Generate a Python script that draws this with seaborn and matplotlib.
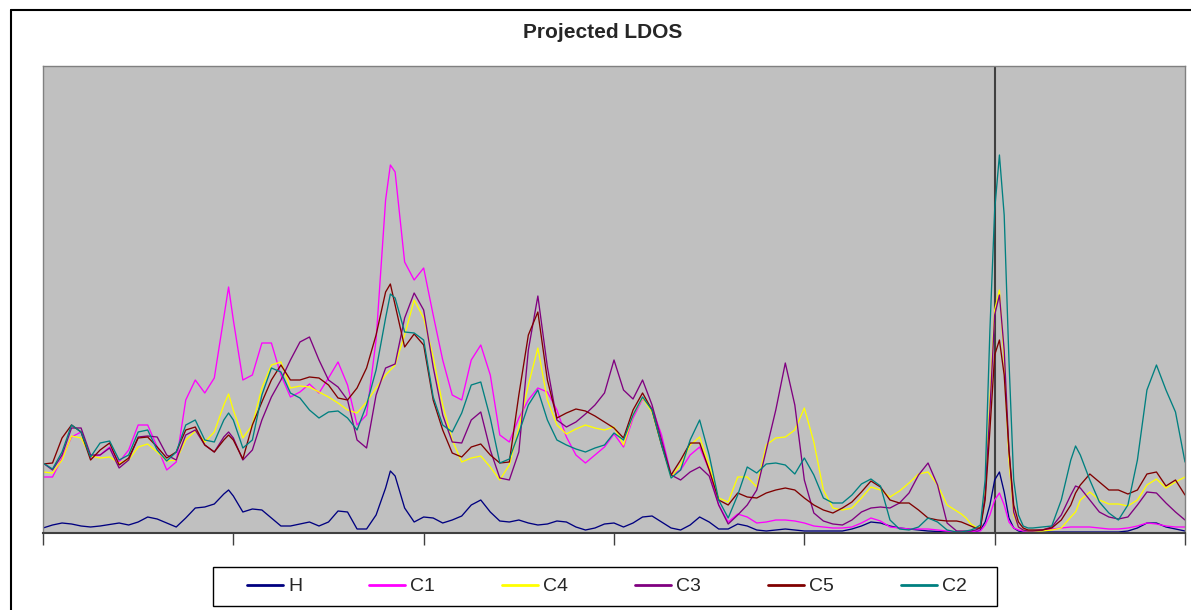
import numpy as np
import pandas as pd
import matplotlib
matplotlib.use("Agg")
import matplotlib.pyplot as plt
from matplotlib.lines import Line2D
from matplotlib.patches import Rectangle
import seaborn as sns

# ---------------- data ----------------
# energy grid (eV): 0.1 eV steps, a finer 0.05 eV window around E_F, plus three peak positions
energy_left = np.round(np.arange(-10.0, -0.35, 0.1), 2)
energy_fermi = np.round(np.arange(-0.35, 0.36, 0.05), 2)
energy_right = np.round(np.arange(0.4, 2.05, 0.1), 2)
energy_peaks = [-8.05, -6.35, 0.85]
energy = np.sort(np.concatenate([energy_left, energy_fermi, energy_right, energy_peaks]))

xticks = [-10, -8, -6, -4, -2, 0, 2]
fermi_level = 0.0

series_names = ["H", "C1", "C4", "C3", "C5", "C2"]
series_colors = ["#000080", "#FF00FF", "#FFFF00", "#800080", "#800000", "#008080"]

ldos_H = [
    0.05, 0.08, 0.10, 0.09, 0.07, 0.06, 0.07, 0.085, 0.10, 0.08,
    0.11, 0.16, 0.14, 0.10, 0.06, 0.15, 0.25, 0.26, 0.29, 0.39,
    0.43,
    0.37, 0.21, 0.24, 0.23, 0.15, 0.07, 0.07, 0.09, 0.11, 0.07,
    0.11, 0.22, 0.21, 0.04, 0.04, 0.18, 0.45,
    0.62,
    0.57, 0.25, 0.11,
    0.16, 0.15, 0.10, 0.13, 0.17, 0.28, 0.33, 0.21, 0.12, 0.11,
    0.13, 0.10, 0.08, 0.09, 0.12, 0.11, 0.06, 0.03, 0.05, 0.09,
    0.10, 0.06, 0.10, 0.16, 0.17, 0.11, 0.05, 0.03, 0.08, 0.16,
    0.11, 0.04, 0.04, 0.09, 0.07, 0.03, 0.02, 0.03, 0.04, 0.03,
    0.02, 0.02, 0.02, 0.02, 0.02, 0.04, 0.07, 0.11, 0.10, 0.07,
    0.05, 0.04, 0.03, 0.02, 0.015, 0.01, 0.01,
    0.01, 0.01, 0.01, 0.01, 0.03, 0.11, 0.28, 0.53, 0.61, 0.41, 0.15, 0.05, 0.02, 0.01, 0.01,
    0.01, 0.01, 0.01, 0.01, 0.01,
    0.01,
    0.01, 0.01, 0.01, 0.01, 0.01, 0.02, 0.05, 0.10, 0.10, 0.06, 0.04, 0.02,
]

ldos_C1 = [
    0.56, 0.56, 0.75, 0.96, 1.01, 0.76, 0.78, 0.86, 0.71, 0.83,
    1.08, 1.08, 0.86, 0.63, 0.71, 1.33, 1.53, 1.40, 1.55, 2.16,
    2.46,
    2.13, 1.53, 1.58, 1.90, 1.90, 1.58, 1.36, 1.41, 1.49, 1.40,
    1.55, 1.71, 1.48, 1.08, 1.18, 1.93, 3.33,
    3.68,
    3.61, 2.71, 2.53,
    2.65, 2.18, 1.73, 1.38, 1.33, 1.73, 1.88, 1.58, 0.98, 0.91,
    1.15, 1.33, 1.45, 1.41, 1.23, 0.96, 0.78, 0.70, 0.78, 0.86,
    0.99, 0.86, 1.15, 1.34, 1.25, 0.98, 0.58, 0.63, 0.78, 0.86,
    0.63, 0.28, 0.11, 0.19, 0.16, 0.10, 0.11, 0.13, 0.13, 0.12,
    0.10, 0.07, 0.06, 0.05, 0.05, 0.06, 0.10, 0.15, 0.12, 0.06,
    0.05, 0.04, 0.04, 0.04, 0.03, 0.02, 0.01,
    0.01, 0.01, 0.01, 0.02, 0.02, 0.08, 0.18, 0.33, 0.40, 0.28, 0.11, 0.05, 0.03, 0.02, 0.02,
    0.02, 0.03, 0.04, 0.05, 0.06,
    0.06,
    0.06, 0.06, 0.05, 0.04, 0.04, 0.05, 0.07, 0.10, 0.09, 0.07, 0.06, 0.06,
]

ldos_C4 = [
    0.61, 0.60, 0.73, 0.97, 0.95, 0.77, 0.75, 0.76, 0.70, 0.73,
    0.86, 0.89, 0.81, 0.72, 0.73, 0.93, 1.02, 0.91, 1.01, 1.28,
    1.39,
    1.23, 0.95, 1.08, 1.45, 1.68, 1.71, 1.45, 1.47, 1.46, 1.41,
    1.36, 1.30, 1.23, 1.20, 1.31, 1.45, 1.58,
    1.63,
    1.68, 1.98, 2.33,
    2.15, 1.76, 1.28, 0.93, 0.71, 0.75, 0.77, 0.66, 0.53, 0.68,
    1.05, 1.48, 1.85, 1.33, 1.08, 0.99, 1.04, 1.08, 1.05, 1.03,
    1.06, 0.88, 1.18, 1.35, 1.21, 0.88, 0.56, 0.68, 0.88, 0.96,
    0.68, 0.35, 0.31, 0.56, 0.56, 0.46, 0.88, 0.95, 0.96, 1.03,
    1.25, 0.91, 0.43, 0.25, 0.23, 0.25, 0.35, 0.46, 0.43, 0.36,
    0.42, 0.50, 0.59, 0.61, 0.48, 0.28, 0.22,
    0.19, 0.15, 0.09, 0.06, 0.05, 0.43, 1.33, 2.23, 2.43, 1.73, 0.73, 0.18, 0.06, 0.03, 0.02,
    0.02, 0.02, 0.03, 0.05, 0.16,
    0.21,
    0.33, 0.41, 0.33, 0.29, 0.29, 0.27, 0.33, 0.48, 0.54, 0.45, 0.51, 0.56,
]

ldos_C3 = [
    0.70, 0.63, 0.78, 1.05, 1.05, 0.78, 0.78, 0.85, 0.65, 0.73,
    0.96, 0.97, 0.96, 0.78, 0.73, 0.98, 1.03, 0.88, 0.81, 0.96,
    1.01,
    0.95, 0.73, 0.83, 1.13, 1.36, 1.53, 1.73, 1.91, 1.96, 1.73,
    1.53, 1.46, 1.33, 0.93, 0.85, 1.38, 1.65,
    1.67,
    1.69, 2.15, 2.40,
    2.23, 1.66, 1.18, 0.91, 0.90, 1.13, 1.21, 0.83, 0.55, 0.53,
    0.81, 1.83, 2.37, 1.66, 1.13, 1.06, 1.11, 1.19, 1.28, 1.40,
    1.73, 1.43, 1.34, 1.53, 1.28, 0.93, 0.58, 0.53, 0.61, 0.66,
    0.57, 0.28, 0.09, 0.18, 0.28, 0.43, 0.83, 1.23, 1.70, 1.28,
    0.53, 0.20, 0.12, 0.09, 0.08, 0.13, 0.21, 0.25, 0.26, 0.25,
    0.30, 0.40, 0.58, 0.70, 0.48, 0.10, 0.02,
    0.02, 0.02, 0.02, 0.03, 0.05, 0.38, 1.23, 2.18, 2.38, 1.83, 0.83, 0.21, 0.06, 0.03, 0.02,
    0.02, 0.03, 0.06, 0.18, 0.38,
    0.47,
    0.45, 0.33, 0.21, 0.16, 0.14, 0.16, 0.28, 0.41, 0.40, 0.30, 0.21, 0.13,
]

ldos_C5 = [
    0.69, 0.70, 0.95, 1.08, 1.01, 0.73, 0.83, 0.90, 0.68, 0.75,
    0.95, 0.96, 0.86, 0.75, 0.81, 1.03, 1.06, 0.88, 0.81, 0.93,
    0.98,
    0.93, 0.74, 1.08, 1.31, 1.53, 1.68, 1.53, 1.53, 1.56, 1.55,
    1.48, 1.35, 1.33, 1.45, 1.65, 1.98, 2.41,
    2.49,
    2.28, 1.86, 1.99,
    1.88, 1.33, 1.03, 0.80, 0.76, 0.86, 0.89, 0.78, 0.70, 0.71,
    1.38, 1.98, 2.21, 1.53, 1.15, 1.20, 1.24, 1.22, 1.17, 1.11,
    1.05, 0.95, 1.23, 1.40, 1.23, 0.88, 0.58, 0.73, 0.90, 0.90,
    0.63, 0.33, 0.28, 0.40, 0.36, 0.35, 0.40, 0.43, 0.45, 0.43,
    0.35, 0.28, 0.23, 0.20, 0.25, 0.31, 0.41, 0.52, 0.46, 0.33,
    0.30, 0.30, 0.23, 0.15, 0.13, 0.12, 0.12,
    0.11, 0.09, 0.07, 0.05, 0.05, 0.33, 1.03, 1.78, 1.93, 1.58, 0.83, 0.28, 0.11, 0.05, 0.03,
    0.03, 0.03, 0.05, 0.13, 0.28,
    0.40,
    0.48, 0.59, 0.51, 0.43, 0.43, 0.39, 0.43, 0.59, 0.61, 0.47, 0.53, 0.38,
]

ldos_C2 = [
    0.70, 0.64, 0.81, 1.08, 1.01, 0.76, 0.90, 0.92, 0.73, 0.78,
    1.01, 1.03, 0.83, 0.72, 0.81, 1.08, 1.13, 0.93, 0.91, 1.13,
    1.20,
    1.13, 0.85, 0.93, 1.38, 1.65, 1.61, 1.40, 1.35, 1.23, 1.15,
    1.21, 1.22, 1.15, 1.03, 1.28, 1.63, 2.15,
    2.39,
    2.35, 2.01, 2.00,
    1.93, 1.36, 1.08, 1.01, 1.20, 1.48, 1.51, 1.15, 0.70, 0.74,
    1.00, 1.28, 1.43, 1.13, 0.93, 0.88, 0.84, 0.81, 0.85, 0.88,
    1.00, 0.93, 1.18, 1.36, 1.23, 0.88, 0.55, 0.63, 0.93, 1.13,
    0.78, 0.33, 0.15, 0.38, 0.66, 0.60, 0.69, 0.70, 0.68, 0.59,
    0.75, 0.58, 0.35, 0.30, 0.30, 0.38, 0.49, 0.54, 0.47, 0.13,
    0.04, 0.03, 0.06, 0.15, 0.11, 0.03, 0.01,
    0.01, 0.02, 0.03, 0.05, 0.08, 0.53, 2.03, 3.23, 3.78, 3.18, 1.73, 0.53, 0.18, 0.07, 0.05,
    0.05, 0.06, 0.07, 0.33, 0.73,
    0.87,
    0.78, 0.53, 0.31, 0.20, 0.13, 0.28, 0.73, 1.43, 1.68, 1.43, 1.21, 0.71,
]

series_values = [ldos_H, ldos_C1, ldos_C4, ldos_C3, ldos_C5, ldos_C2]

# ---------------- long-form table ----------------
frames = []
for name, vals in zip(series_names, series_values):
    if len(vals) != len(energy):
        raise ValueError(f"{name}: {len(vals)} values vs {len(energy)} energies")
    frames.append(pd.DataFrame({"energy": energy, "ldos": vals, "orbital": name}))
df = pd.concat(frames, ignore_index=True)

# ---------------- figure ----------------
sns.set_style("white")
plt.rcParams["font.family"] = ["Liberation Sans", "DejaVu Sans"]

W, H = 1191, 610
fig = plt.figure(figsize=(W / 100, H / 100), dpi=100)
fig.patch.set_facecolor("white")

ax = fig.add_axes([43 / W, (H - 533) / H, 1142 / W, 467 / H])
ax.set_facecolor("#C0C0C0")

sns.lineplot(
    data=df, x="energy", y="ldos", hue="orbital", hue_order=series_names,
    palette=dict(zip(series_names, series_colors)), estimator=None,
    linewidth=0.95, ax=ax, legend=True,
)

ax.axvline(fermi_level, color="#404040", linewidth=1.5, zorder=0.5)

ax.set_xlim(-10, 2)
ax.set_ylim(0, 4.67)
ax.set_xticks(xticks)
ax.set_xticklabels([])
ax.set_yticks([])
ax.set_xlabel("")
ax.set_ylabel("")
ax.tick_params(axis="x", direction="out", length=8.6, width=1.0, color="#404040", bottom=True)

for side in ["left", "top", "right"]:
    ax.spines[side].set_color("#808080")
    ax.spines[side].set_linewidth(1.0)
ax.spines["bottom"].set_color("#404040")
ax.spines["bottom"].set_linewidth(1.5)

fig.text(603 / W, 1 - 33 / H, "Projected LDOS", ha="center", va="center",
         fontsize=15, fontweight="bold")

handles, labels = ax.get_legend_handles_labels()
ax.get_legend().remove()
leg = fig.legend(
    handles, labels, loc="center",
    bbox_to_anchor=(607 / W, 1 - 586.5 / H),
    ncol=6, frameon=False, fontsize=14,
    handlelength=1.85, handletextpad=0.26, columnspacing=3.45,
    borderpad=0.3,
)
for ln in leg.get_lines():
    ln.set_linewidth(2.0)

# legend box
fig.add_artist(Rectangle((213 / W, (H - 606) / H), 784 / W, 39 / H,
                         transform=fig.transFigure, fill=False,
                         edgecolor="black", linewidth=1.0))

# outer chart border (left and top visible)
fig.add_artist(Line2D([11 / W, 11 / W], [0, 1 - 10 / H], color="black", linewidth=1.5))
fig.add_artist(Line2D([11 / W, 1.0], [1 - 10 / H, 1 - 10 / H], color="black", linewidth=1.5))

fig.savefig("out.png", dpi=100)
